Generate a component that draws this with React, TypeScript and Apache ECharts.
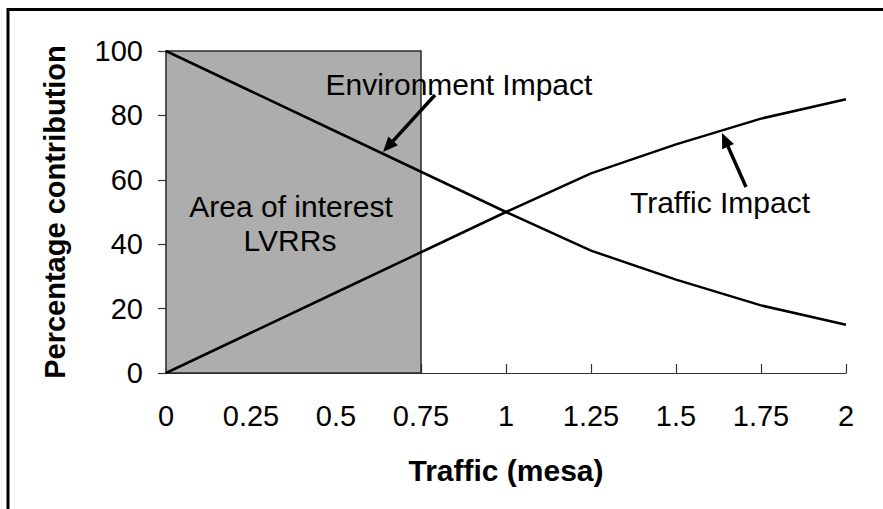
import React, { useEffect, useRef } from "react";
import * as echarts from "echarts";

const trafficMesa = [0, 0.25, 0.5, 0.75, 1, 1.25, 1.5, 1.75, 2];
const environmentImpact = [100, 87.5, 75, 62.5, 50, 38, 29, 21, 15];
const trafficImpact = [0, 12.5, 25, 37.5, 50, 62, 71, 79, 85];
const interestRange = [0, 0.75];
const yRange = [0, 100];

const FONT = "'Liberation Sans', Arial, Helvetica, sans-serif";

function arrow(tail: number[], head: number[]) {
  const dx = head[0] - tail[0];
  const dy = head[1] - tail[1];
  const len = Math.sqrt(dx * dx + dy * dy);
  const ux = dx / len;
  const uy = dy / len;
  const hl = 15;
  const hw = 6.5;
  const bx = head[0] - ux * hl;
  const by = head[1] - uy * hl;
  return [
    {
      type: "line",
      shape: { x1: tail[0], y1: tail[1], x2: bx + ux * 2, y2: by + uy * 2 },
      style: { stroke: "#000", lineWidth: 3.5 },
      z: 10,
    },
    {
      type: "polygon",
      shape: {
        points: [
          [head[0], head[1]],
          [bx - uy * hw, by + ux * hw],
          [bx + uy * hw, by - ux * hw],
        ],
      },
      style: { fill: "#000" },
      z: 10,
    },
  ];
}

export default function App() {
  const ref = useRef<HTMLDivElement>(null);
  useEffect(() => {
    if (!ref.current) return;
    const chart = echarts.init(ref.current, undefined, { renderer: "svg" });
    const textStyle = (x: number, y: number, text: string, size = 30) => ({
      type: "text",
      x,
      y,
      z: 10,
      style: {
        text,
        fill: "#000",
        font: `${size}px ${FONT}`,
        align: "center",
        verticalAlign: "middle",
      },
    });
    chart.setOption({
      animation: false,
      backgroundColor: "#fff",
      grid: { left: 166, right: 37, top: 51, bottom: 136 },
      xAxis: {
        type: "value",
        min: 0,
        max: 2,
        interval: 0.25,
        name: "Traffic (mesa)",
        nameLocation: "middle",
        nameGap: 82,
        nameTextStyle: { fontFamily: FONT, fontWeight: "bold", fontSize: 30, color: "#000" },
        axisLine: { show: true, lineStyle: { color: "#333", width: 1.2 } },
        axisTick: { show: true, inside: true, length: 9, lineStyle: { color: "#333", width: 1.2 } },
        axisLabel: {
          fontFamily: FONT,
          fontSize: 29,
          color: "#000",
          margin: 28,
          formatter: (v: number) => String(v),
        },
        splitLine: { show: false },
      },
      yAxis: {
        type: "value",
        min: yRange[0],
        max: yRange[1],
        interval: 20,
        offset: 3,
        name: "Percentage contribution",
        nameLocation: "middle",
        nameGap: 94,
        nameTextStyle: { fontFamily: FONT, fontWeight: "bold", fontSize: 29, color: "#000" },
        axisLine: { show: true, lineStyle: { color: "#333", width: 1.2 } },
        axisTick: { show: true, inside: false, length: 8, lineStyle: { color: "#333", width: 1.2 } },
        axisLabel: { fontFamily: FONT, fontSize: 29, color: "#000", margin: 20 },
        splitLine: { show: false },
      },
      series: [
        {
          type: "line",
          name: "Area of interest",
          data: [],
          z: 1,
          markArea: {
            silent: true,
            itemStyle: { color: "#adadad", borderColor: "#2a2a2a", borderWidth: 1.5 },
            data: [
              [
                { xAxis: interestRange[0], yAxis: yRange[0] },
                { xAxis: interestRange[1], yAxis: yRange[1] },
              ],
            ],
          },
        },
        {
          type: "line",
          name: "Environment Impact",
          data: trafficMesa.map((x, i) => [x, environmentImpact[i]]),
          symbol: "none",
          z: 5,
          lineStyle: { color: "#000", width: 2.5 },
        },
        {
          type: "line",
          name: "Traffic Impact",
          data: trafficMesa.map((x, i) => [x, trafficImpact[i]]),
          symbol: "none",
          z: 5,
          lineStyle: { color: "#000", width: 2.5 },
        },
      ],
      graphic: [
        {
          type: "rect",
          shape: { x: 8, y: 9.5, width: 1000, height: 1000 },
          style: { fill: "none", stroke: "#000", lineWidth: 3 },
          z: 20,
        },
        textStyle(459, 84, "Environment Impact"),
        textStyle(291, 206, "Area of interest"),
        textStyle(290, 240, "LVRRs"),
        textStyle(720, 202, "Traffic Impact"),
        ...arrow([435, 95], [383, 152]),
        ...arrow([746, 187], [722, 133]),
      ],
    });
    return () => chart.dispose();
  }, []);
  return (
    <div
      ref={ref}
      style={{ position: "fixed", left: 0, top: 0, width: 883, height: 509 }}
    />
  );
}
